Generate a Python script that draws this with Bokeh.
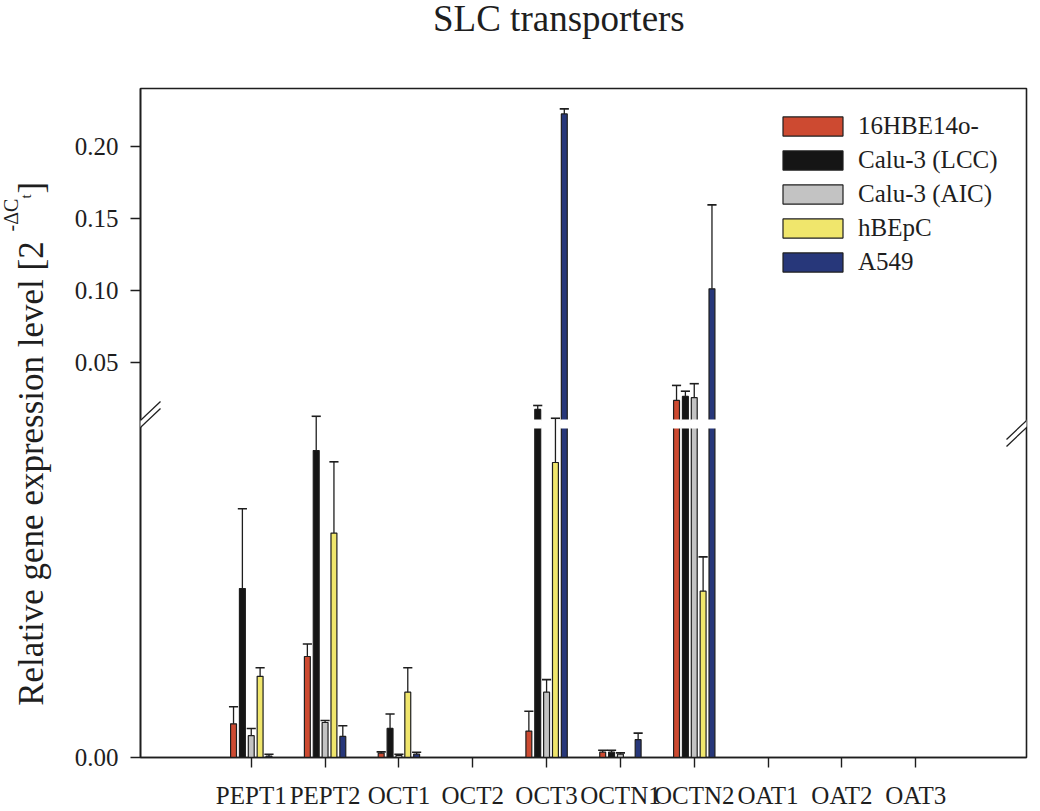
import math
from bokeh.plotting import figure
from bokeh.layouts import row, column
from bokeh.models import (Range1d, FactorRange, LinearAxis, FixedTicker, CustomJSTickFormatter,
                          ColumnDataSource, Legend, LegendItem, Arrow, PolyAnnotation, Div)
from bokeh.transform import dodge
from bokeh.core.properties import value
from bokeh.embed import file_html
from bokeh.resources import INLINE

# ---- data -------------------------------------------------------------
categories = ["PEPT1", "PEPT2", "OCT1", "OCT2", "OCT3", "OCTN1", "OCTN2", "OAT1", "OAT2", "OAT3"]
series = ["16HBE14o-", "Calu-3 (LCC)", "Calu-3 (AIC)", "hBEpC", "A549"]

hbe14o = [0.00051, 0.00153, 0.000065, 0, 0.00040, 0.00008, 0.0239, 0, 0, 0]
hbe14o_sd = [0.00026, 0.00019, 0.00002, 0, 0.00030, 0.00003, 0.0104, 0, 0, 0]
calu3_lcc = [0.00256, 0.00465, 0.00044, 0, 0.0177, 0.00008, 0.0267, 0, 0, 0]
calu3_lcc_sd = [0.00121, 0.00052, 0.00022, 0, 0.0027, 0.00003, 0.0036, 0, 0, 0]
calu3_aic = [0.00033, 0.00053, 0.00003, 0, 0.00099, 0.00005, 0.0258, 0, 0, 0]
calu3_aic_sd = [0.00011, 0.00003, 0.00002, 0, 0.00019, 0.00002, 0.0097, 0, 0, 0]
hbepc = [0.00123, 0.0034, 0.00099, 0, 0.00447, 0, 0.00252, 0, 0, 0]
hbepc_sd = [0.00013, 0.00108, 0.00037, 0, 0.00067, 0, 0.00052, 0, 0, 0]
a549 = [0.00002, 0.00032, 0.00005, 0, 0.2224, 0.00027, 0.1012, 0, 0, 0]
a549_sd = [0.00003, 0.00016, 0.00003, 0, 0.0035, 0.00010, 0.0582, 0, 0, 0]

y_ticks = [0.05, 0.10, 0.15, 0.20]

means = [hbe14o, calu3_lcc, calu3_aic, hbepc, a549]
sds = [hbe14o_sd, calu3_lcc_sd, calu3_aic_sd, hbepc_sd, a549_sd]
colors = ["#cd4a31", "#151515", "#c3c3c3", "#f0e66c", "#27377a"]
offsets = [-0.24, -0.12, 0.0, 0.12, 0.24]

# ---- broken y axis: two linear segments sharing one frame -------------
FRAME_W, FRAME_H = 886, 669
LOW_MAX = 0.005               # top of the lower segment
UP_MIN, UP_MAX = 0.01, 0.24   # extent of the upper segment
LOW_PX = 330                  # height of the lower segment
GAP_PX = 7                    # blank band between segments

low_end = LOW_MAX * FRAME_H / LOW_PX
up_per_px = (UP_MAX - UP_MIN) / (FRAME_H - LOW_PX - GAP_PX)
up_start = UP_MIN - (LOW_PX + GAP_PX) * up_per_px
low_per_px = LOW_MAX / LOW_PX
gap_top_low = LOW_MAX + GAP_PX * low_per_px

FONT = "Liberation Serif"
INK = "#1e1e1e"
BAR_W = 0.08
CAP_HALF = 0.062
LEFT_W = 60
TITLE_H = 40
TOP, BOTTOM = 88, 54          # space above / below the frame on the page

p = figure(width=1040 - LEFT_W, height=811 - TITLE_H, frame_width=FRAME_W, frame_height=FRAME_H,
           x_range=FactorRange(*categories, range_padding=1, range_padding_units="absolute"),
           y_range=Range1d(0, low_end), y_axis_location=None,
           output_backend="svg", toolbar_location=None,
           min_border_left=140 - LEFT_W, min_border_right=14,
           min_border_top=TOP - TITLE_H, min_border_bottom=BOTTOM)
p.extra_y_ranges = {"upper": Range1d(up_start, UP_MAX)}
p.background_fill_color = "white"
p.border_fill_color = "white"
p.xgrid.visible = False
p.ygrid.visible = False
p.outline_line_color = INK
p.outline_line_width = 1.6

yaxis = LinearAxis(y_range_name="upper",
                   ticker=FixedTicker(ticks=[up_start + 1e-9] + y_ticks),
                   formatter=CustomJSTickFormatter(code="return tick < 0 ? '0.00' : tick.toFixed(2);"))
p.add_layout(yaxis, "left")

for ax in (p.xaxis[0], yaxis):
    ax.axis_line_color = INK
    ax.axis_line_width = 1.6
    ax.major_tick_line_color = INK
    ax.major_tick_line_width = 1.4
    ax.major_tick_out = 10
    ax.major_tick_in = 0
    ax.minor_tick_line_color = None
    ax.major_label_text_font = FONT
    ax.major_label_text_font_size = "25px"
    ax.major_label_text_color = INK
yaxis.major_label_standoff = 12
p.xaxis.major_label_standoff = 14

legend_items = []
for name, vals, sd, col, off in zip(series, means, sds, colors, offsets):
    lo = dict(cat=[], top=[], val=[], hi=[])
    up = dict(cat=[], top=[], val=[], hi=[])
    cross = dict(cat=[])
    for c, v, s in zip(categories, vals, sd):
        if v <= 0:
            continue
        lo["cat"].append(c)
        lo["top"].append(min(v, LOW_MAX))
        lo["val"].append(v)
        lo["hi"].append(v + s)
        if v > UP_MIN:
            up["cat"].append(c)
            up["top"].append(v)
            up["val"].append(v)
            up["hi"].append(v + s)
            cross["cat"].append(c)
    src_lo = ColumnDataSource(lo)
    src_up = ColumnDataSource(up)
    xd = dodge("cat", off, range=p.x_range)

    r = p.vbar(x=xd, top="top", bottom=0, width=BAR_W, source=src_lo,
               fill_color=col, line_color=INK, line_width=1.2)
    p.vbar(x=xd, top="top", bottom=UP_MIN, width=BAR_W, source=src_up,
           fill_color=col, line_color=INK, line_width=1.2, y_range_name="upper")
    # blank band where a bar passes through the axis break
    p.vbar(x=xd, top=gap_top_low + 1.0 * low_per_px, bottom=LOW_MAX - 1.0 * low_per_px,
           width=BAR_W + 0.03, source=ColumnDataSource(cross),
           fill_color="white", line_color=None)

    # upward error bars (mean + SD)
    lo_err = ColumnDataSource({k: [x for x, v in zip(lo[k], lo["val"]) if v <= LOW_MAX] for k in lo})
    for src, rng in ((lo_err, "default"), (src_up, "upper")):
        p.segment(x0=xd, x1=xd, y0="val", y1="hi", source=src,
                  line_color=INK, line_width=1.3, y_range_name=rng)
        p.segment(x0=dodge("cat", off - CAP_HALF, range=p.x_range),
                  x1=dodge("cat", off + CAP_HALF, range=p.x_range),
                  y0="hi", y1="hi", source=src,
                  line_color=INK, line_width=1.6, y_range_name=rng)
    legend_items.append(LegendItem(label=name, renderers=[r]))

legend = Legend(items=legend_items, location=(635, 481),
                glyph_width=75, glyph_height=24, label_standoff=8, spacing=6,
                padding=0, margin=0, border_line_color=None, background_fill_alpha=0,
                label_text_font=FONT, label_text_font_size="25px", label_text_color=INK)
p.add_layout(legend)

# break marks on the left and right frame edges
brk = LOW_PX + GAP_PX / 2
for x0 in (0, FRAME_W):
    p.add_layout(PolyAnnotation(xs=[x0 - 20, x0 + 20, x0 + 20, x0 - 20],
                                ys=[brk - 15, brk + 23, brk + 16, brk - 22],
                                xs_units="screen", ys_units="screen",
                                fill_color="white", fill_alpha=1, line_color=None))
    for d in (-3.5, 3.5):
        p.add_layout(Arrow(end=None, x_start=x0 - 20, y_start=brk - 19 + d,
                           x_end=x0 + 20, y_end=brk + 19 + d,
                           start_units="screen", end_units="screen",
                           line_color=INK, line_width=1.3))

# ---- strip on the left carrying the rotated y-axis title ---------------
# its frame matches the main frame, so y is given in page pixels (top = 88)
side = figure(width=LEFT_W, height=811 - TITLE_H, frame_height=FRAME_H,
              x_range=Range1d(0, LEFT_W), y_range=Range1d(TOP + FRAME_H, TOP),
              x_axis_location=None, y_axis_location=None, output_backend="svg",
              toolbar_location=None, min_border_left=0, min_border_right=0,
              min_border_top=TOP - TITLE_H, min_border_bottom=BOTTOM)
side.outline_line_color = None
side.xgrid.visible = False
side.ygrid.visible = False
side.background_fill_color = "white"
side.border_fill_color = "white"

rot = math.pi / 2
ylabel_parts = [
    # text, x (baseline), y (anchor), size, align
    ("Relative gene expression level  [2", 31, 232, "35px", "right"),
    ("-ΔC", 10, 231, "20px", "left"),
    ("t", 25, 198, "15px", "left"),
    ("]", 31, 193, "35px", "left"),
]
for txt, x, y, size, align in ylabel_parts:
    side.text(x=[x], y=[y], text=[txt], angle=rot, text_align=align,
              text_baseline="alphabetic", text_font=value(FONT),
              text_font_size=size, text_color=INK)

title = Div(text=("<div style=\"font-family:'Liberation Serif';font-size:37px;line-height:37px;"
                  "color:#1e1e1e;padding-left:433px;padding-top:0px;white-space:nowrap;\">"
                  "SLC transporters</div>"),
            width=1040, height=TITLE_H, margin=0)

layout = column(title, row(side, p))
open("out.html", "w").write(file_html(layout, INLINE))
